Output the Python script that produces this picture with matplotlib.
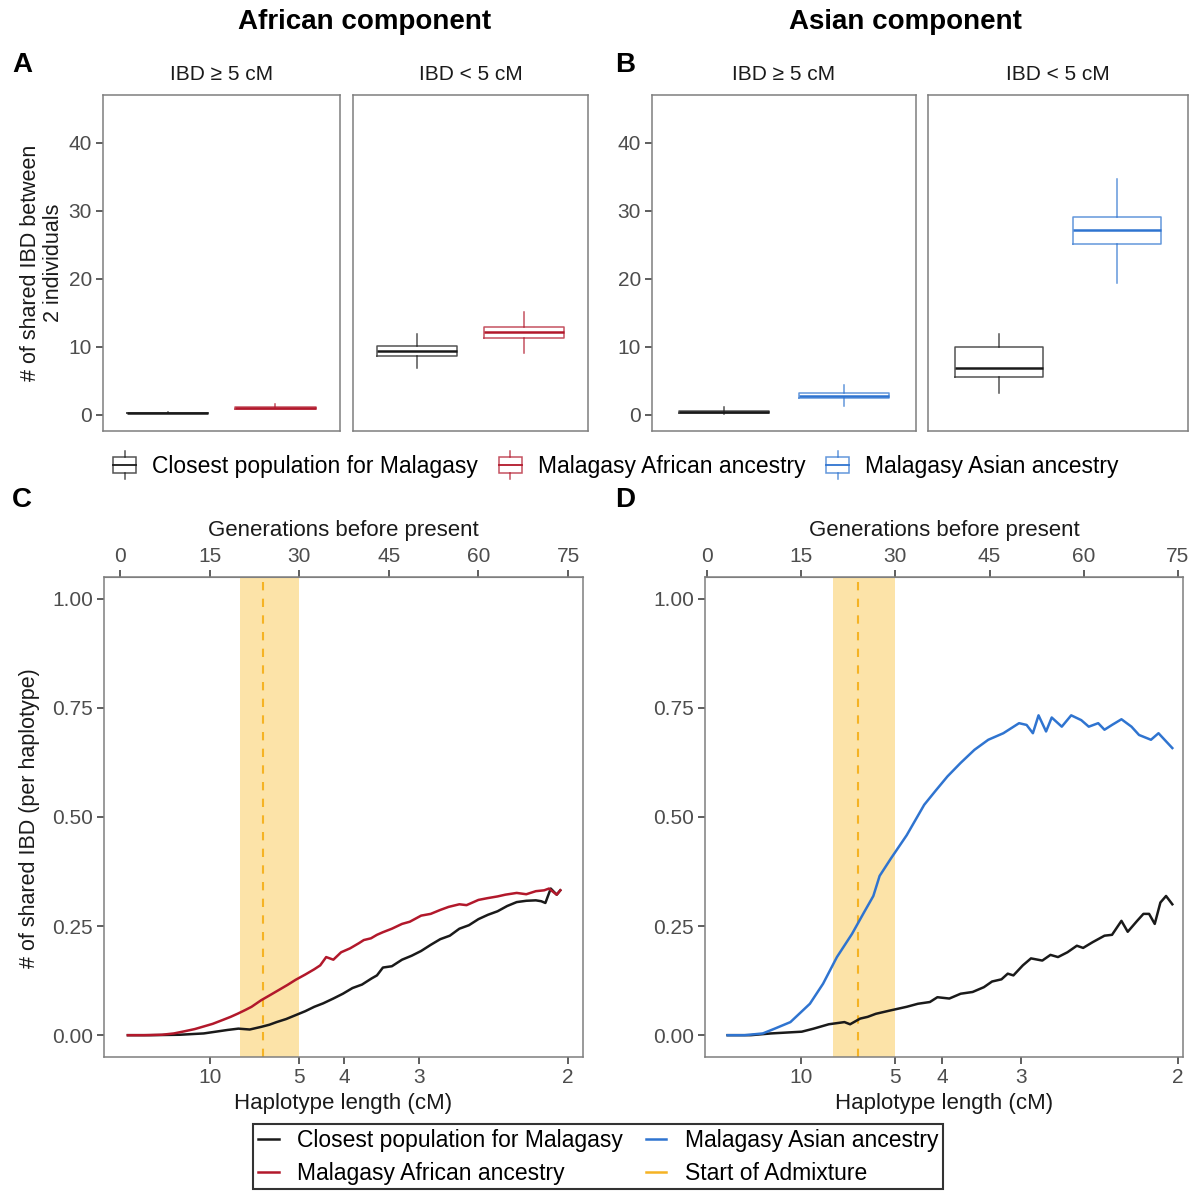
import numpy as np
import matplotlib
matplotlib.use('Agg')
import matplotlib.pyplot as plt
from matplotlib.patches import Patch, Rectangle
from matplotlib.lines import Line2D
from matplotlib.legend_handler import HandlerBase

plt.rcParams['font.family'] = ['Liberation Sans', 'DejaVu Sans']

# ---- data ----
groups = ['Closest population for Malagasy', 'Malagasy African ancestry', 'Malagasy Asian ancestry']
col_black = '#1a1a1a'
col_red = '#B2182B'
col_blue = '#2F74D0'
col_orange = '#F5B324'
col_shade = '#FCE3A8'

# box stats: (whislo, q1, med, q3, whishi)
afr_long = [(0.2, 0.3, 0.3, 0.3, 0.4), (0.8, 0.9, 1.0, 1.1, 1.5)]
afr_short = [(6.8, 8.7, 9.4, 10.1, 11.9), (9.1, 11.3, 12.2, 12.9, 15.1)]
asn_long = [(0.1, 0.2, 0.4, 0.6, 1.2), (1.3, 2.4, 2.8, 3.2, 4.3)]
asn_short = [(3.2, 5.6, 6.8, 9.9, 11.9), (19.4, 25.1, 27.2, 29.0, 34.7)]

# panel C (African component), generations vs shared IBD
c_afr_gen = [1.3, 4, 7, 9, 10.8, 12.5, 14, 15.5, 17.2, 18.5, 19.8, 21, 22, 23.6, 25, 26.5,
             28, 29.4, 31, 32.5, 33.5, 34.5, 35.7, 37, 38.5, 40, 40.8, 42, 43, 44, 45.5,
             47.2, 48.5, 50.4, 52, 53.6, 55, 56.8, 58, 60, 61.5, 63.2, 64.5, 66.4, 68,
             69.6, 71, 71.8, 73.1, 73.7]
c_afr_val = [0, 0, 0.001, 0.004, 0.009, 0.014, 0.020, 0.026, 0.035, 0.042, 0.050, 0.058,
             0.065, 0.080, 0.091, 0.103, 0.115, 0.127, 0.139, 0.151, 0.160, 0.179, 0.173,
             0.190, 0.199, 0.211, 0.218, 0.222, 0.230, 0.236, 0.244, 0.255, 0.260, 0.274,
             0.278, 0.287, 0.294, 0.300, 0.298, 0.310, 0.314, 0.318, 0.322, 0.326, 0.323,
             0.330, 0.332, 0.336, 0.322, 0.332]
c_cls_gen = [1.3, 5, 10, 14, 16, 18, 19.8, 21.7, 23.6, 25, 26.2, 27.8, 29.4, 31, 32.5, 34,
             35.7, 37.3, 38.9, 40.5, 42.1, 43, 44, 45.5, 47.2, 48.8, 50.4, 52, 53.6, 55.2,
             56.8, 58.4, 60, 61.6, 63.2, 64.8, 66.4, 68, 69.6, 70.5, 71.2, 72.1, 73.1, 73.7]
c_cls_val = [0, 0, 0.001, 0.004, 0.008, 0.012, 0.015, 0.013, 0.019, 0.024, 0.030, 0.037,
             0.046, 0.055, 0.065, 0.073, 0.084, 0.095, 0.108, 0.116, 0.130, 0.137, 0.155,
             0.158, 0.173, 0.182, 0.193, 0.207, 0.220, 0.228, 0.244, 0.252, 0.266, 0.276,
             0.284, 0.296, 0.305, 0.308, 0.309, 0.307, 0.303, 0.336, 0.322, 0.332]

# panel D (Asian component)
d_asn_gen = [3.3, 6, 8.9, 10.8, 13.3, 16.4, 18.5, 20.7, 23.1, 25, 26.5, 27.5, 29.3, 31.8,
             34.6, 36.4, 38.3, 40.4, 42.6, 44.8, 47.2, 49.7, 50.9, 51.9, 52.8, 54, 54.9,
             56.5, 58, 59.6, 60.8, 62.3, 63.3, 64.5, 66, 67.6, 68.8, 70.7, 71.9, 74.1]
d_asn_val = [0, 0, 0.004, 0.015, 0.030, 0.072, 0.118, 0.179, 0.232, 0.281, 0.319, 0.365,
             0.405, 0.458, 0.528, 0.560, 0.593, 0.624, 0.654, 0.677, 0.692, 0.715, 0.711,
             0.692, 0.733, 0.696, 0.728, 0.707, 0.733, 0.722, 0.707, 0.715, 0.700, 0.711,
             0.724, 0.707, 0.688, 0.677, 0.692, 0.658]
d_cls_gen = [3.3, 7, 10.2, 15.1, 17, 19.4, 21.9, 22.8, 24.4, 25.6, 26.9, 29.3, 31.8, 33.6,
             35.5, 36.7, 38.6, 40.4, 42.3, 44.1, 45.4, 46.9, 47.9, 48.8, 50.3, 51.6, 53.4,
             54.7, 55.9, 57.4, 58.9, 59.9, 61.4, 63.3, 64.5, 66, 67, 68.5, 69.5, 70.4, 71.3,
             72.2, 73.1, 74.1]
d_cls_val = [0, 0, 0.004, 0.008, 0.015, 0.025, 0.030, 0.025, 0.038, 0.042, 0.049, 0.057,
             0.065, 0.072, 0.076, 0.087, 0.084, 0.095, 0.099, 0.110, 0.123, 0.128, 0.141,
             0.137, 0.160, 0.176, 0.171, 0.184, 0.179, 0.190, 0.205, 0.200, 0.213, 0.228,
             0.230, 0.262, 0.237, 0.262, 0.278, 0.278, 0.255, 0.304, 0.319, 0.300]

admix_lo, admix_hi, admix_start = 20, 30, 24
gen_ticks = [0, 15, 30, 45, 60, 75]
hap_ticks = [10, 5, 4, 3, 2]

# ---- layout ----
W, H = 1195, 1191
fig = plt.figure(figsize=(W / 100, H / 100), dpi=100)


def add_ax(l, t, r, b):
    return fig.add_axes([l / W, 1 - b / H, (r - l) / W, (b - t) / H])


grey_txt = '#4d4d4d'
border = '#7f7f7f'


def style(ax):
    for s in ax.spines.values():
        s.set_color(border)
        s.set_linewidth(1.1)
    ax.tick_params(colors='#333333', labelcolor=grey_txt, labelsize=15, length=5, width=1.1, pad=3)


def draw_boxes(ax, stats, colors):
    for i, (st, c) in enumerate(zip(stats, colors)):
        d = dict(whislo=st[0], q1=st[1], med=st[2], q3=st[3], whishi=st[4], fliers=[])
        ax.bxp([d], positions=[i + 1], widths=0.75, showcaps=False, showfliers=False,
               boxprops=dict(color=c, alpha=0.75, linewidth=1.1),
               whiskerprops=dict(color=c, alpha=0.75, linewidth=1.1),
               medianprops=dict(color=c, linewidth=1.8))
    ax.set_xlim(0.4, 2.6)
    ax.set_ylim(-2.4, 47)
    ax.set_xticks([])
    ax.set_yticks([0, 10, 20, 30, 40])
    style(ax)


panels = [
    ((103, 95, 340, 431), afr_long, [col_black, col_red], 'IBD \u2265 5 cM', True),
    ((353, 95, 588, 431), afr_short, [col_black, col_red], 'IBD < 5 cM', False),
    ((652, 95, 916, 431), asn_long, [col_black, col_blue], 'IBD \u2265 5 cM', True),
    ((928, 95, 1188, 431), asn_short, [col_black, col_blue], 'IBD < 5 cM', False),
]
for rect, st, cols, strip, show_y in panels:
    ax = add_ax(*rect)
    draw_boxes(ax, st, cols)
    if not show_y:
        ax.tick_params(left=False, labelleft=False)
    ax.set_title(strip, fontsize=15, color='#1a1a1a', pad=11)


def line_panel(rect, xlim, series):
    ax = add_ax(*rect)
    ax.axvspan(admix_lo, admix_hi, color=col_shade, lw=0, zorder=0)
    ax.axvline(admix_start, color=col_orange, ls=(0, (4, 4)), lw=1.5, zorder=1)
    for g, v, c in series:
        ax.plot(g, v, color=c, lw=1.8, zorder=3)
    ax.set_xlim(*xlim)
    ax.set_ylim(-0.05, 1.05)
    ax.set_yticks([0, 0.25, 0.5, 0.75, 1.0])
    ax.set_yticklabels(['0.00', '0.25', '0.50', '0.75', '1.00'])
    ax.set_xticks([150 / h for h in hap_ticks])
    ax.set_xticklabels([str(h) for h in hap_ticks])
    ax.set_xlabel('Haplotype length (cM)', fontsize=16, color='#1a1a1a', labelpad=4)
    style(ax)
    top = ax.secondary_xaxis('top')
    top.set_xticks(gen_ticks)
    top.set_xlabel('Generations before present', fontsize=16, color='#1a1a1a', labelpad=8)
    top.tick_params(colors='#333333', labelcolor=grey_txt, labelsize=15, length=5, width=1.1, pad=3)
    top.spines['top'].set_color(border)
    return ax


axc = line_panel((104, 577, 583, 1057), (-2.7, 77.5),
                 [(c_cls_gen, c_cls_val, col_black), (c_afr_gen, c_afr_val, col_red)])
axd = line_panel((705, 577, 1183, 1057), (-0.3, 75.8),
                 [(d_cls_gen, d_cls_val, col_black), (d_asn_gen, d_asn_val, col_blue)])


def ft(x, y, s, **kw):
    fig.text(x / W, 1 - y / H, s, **kw)


ft(365, 22, 'African component', fontsize=20, fontweight='bold', ha='center', va='center')
ft(905, 22, 'Asian component', fontsize=20, fontweight='bold', ha='center', va='center')
for x, y, s in [(22, 65, 'A'), (625, 65, 'B'), (22, 500, 'C'), (625, 500, 'D')]:
    ft(x, y, s, fontsize=20, fontweight='bold', ha='center', va='center')
ft(42, 263, '# of shared IBD between\n2 individuals', fontsize=15.5, rotation=90,
   ha='center', va='center', linespacing=1.15, color='#1a1a1a')
ft(30, 818, '# of shared IBD (per haplotype)', fontsize=15.5, rotation=90,
   ha='center', va='center', color='#1a1a1a')


class BoxHandler(HandlerBase):
    def create_artists(self, legend, orig_handle, xd, yd, width, height, fontsize, trans):
        c = orig_handle.get_edgecolor()
        x0, y0 = -xd, -yd
        box = Rectangle((x0, y0 + 0.2 * height), width, 0.6 * height, fill=False,
                        edgecolor=c, lw=1.1, alpha=0.75, transform=trans)
        med = Line2D([x0, x0 + width], [y0 + 0.5 * height] * 2, color=c, lw=1.3, transform=trans)
        w1 = Line2D([x0 + width / 2] * 2, [y0 + 0.8 * height, y0 + height], color=c, lw=1.1,
                    alpha=0.75, transform=trans)
        w2 = Line2D([x0 + width / 2] * 2, [y0, y0 + 0.2 * height], color=c, lw=1.1,
                    alpha=0.75, transform=trans)
        return [box, med, w1, w2]


box_handles = [Patch(edgecolor=c, facecolor='none') for c in [col_black, col_red, col_blue]]
fig.legend(box_handles, groups, loc='center', bbox_to_anchor=(616 / W, 1 - 465 / H), ncol=3,
           frameon=False, handler_map={Patch: BoxHandler()}, fontsize=16.5, handlelength=1.0,
           handleheight=1.5, handletextpad=0.7, columnspacing=0.9)

line_handles = [Line2D([], [], color=col_black, lw=1.8), Line2D([], [], color=col_red, lw=1.8),
                Line2D([], [], color=col_blue, lw=1.8), Line2D([], [], color=col_orange, lw=1.8)]
line_labels = [groups[0], groups[1], groups[2], 'Start of Admixture']
leg = fig.legend(line_handles, line_labels, loc='upper center', bbox_to_anchor=(598 / W, 1 - 1124 / H),
                 ncol=2, frameon=True, fancybox=False, fontsize=16.5, handlelength=0.9,
                 handletextpad=0.8, columnspacing=1.0, borderpad=0.2, labelspacing=0.45,
                 borderaxespad=0)
leg.get_frame().set_edgecolor('black')
leg.get_frame().set_linewidth(1.5)

fig.savefig('out.png', dpi=100, facecolor='white')
